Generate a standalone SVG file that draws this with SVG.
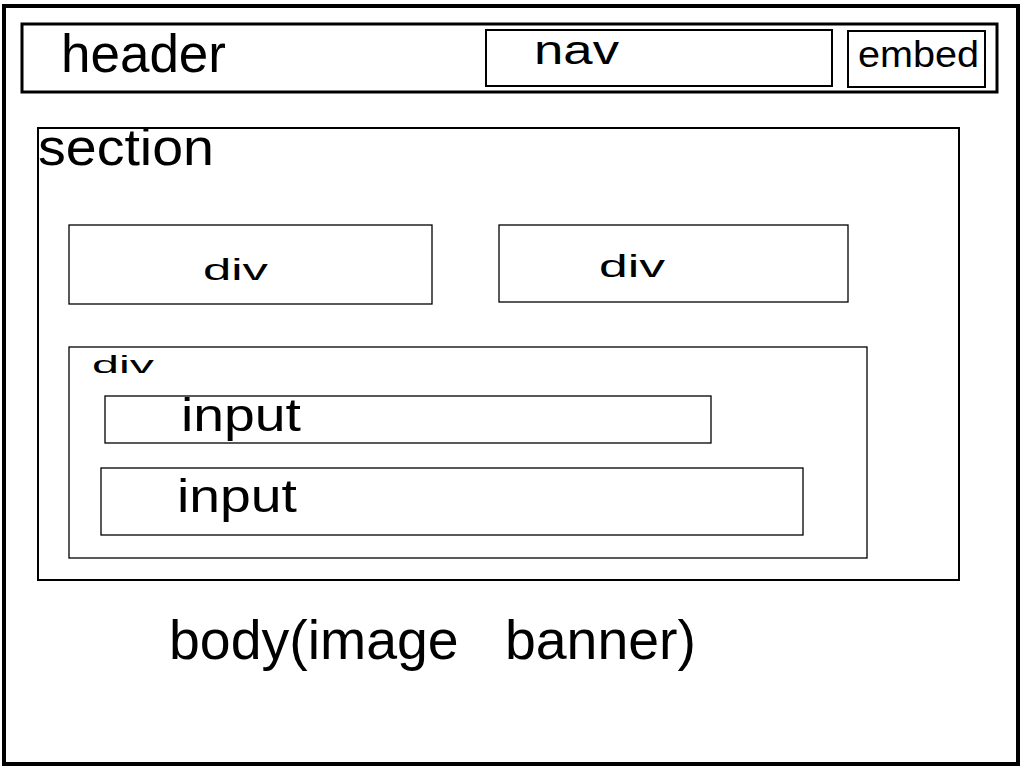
<svg xmlns="http://www.w3.org/2000/svg" width="1024" height="768" viewBox="0 0 1024 768">
<style>
rect{fill:none;stroke:#000}
text{font-family:"Liberation Sans",Arial,sans-serif;fill:#000}
.t4{stroke-width:4}.t3{stroke-width:3}.t2{stroke-width:2}.t1{stroke-width:1.3}
</style>
<rect width="1024" height="768" fill="#fff" style="fill:#fff;stroke:none"/>
<g id="body">
<rect class="t4" x="4" y="6" width="1014" height="758"/>
<text x="169" y="659" font-size="55" textLength="527" lengthAdjust="spacingAndGlyphs" xml:space="preserve">body(image   banner)</text>
</g>
<g id="header">
<rect class="t3" x="22" y="24" width="975" height="68"/>
<text x="61" y="72" font-size="54" textLength="165" lengthAdjust="spacingAndGlyphs">header</text>
</g>
<g id="nav">
<rect class="t2" x="486" y="30" width="346" height="56"/>
<text x="534" y="64" font-size="41" textLength="85" lengthAdjust="spacingAndGlyphs">nav</text>
</g>
<g id="embed">
<rect class="t2" x="848" y="31" width="137" height="56"/>
<text x="858" y="67" font-size="36" textLength="121" lengthAdjust="spacingAndGlyphs">embed</text>
</g>
<g id="section">
<rect class="t2" x="38" y="128" width="921" height="452"/>
<text x="38" y="165" font-size="52" textLength="176" lengthAdjust="spacingAndGlyphs">section</text>
</g>
<g id="div1">
<rect class="t1" x="69" y="225" width="363" height="79"/>
<text x="203" y="280" font-size="30" textLength="65" lengthAdjust="spacingAndGlyphs">div</text>
</g>
<g id="div2">
<rect class="t1" x="499" y="225" width="349" height="77"/>
<text x="599" y="277" font-size="32" textLength="66" lengthAdjust="spacingAndGlyphs">div</text>
</g>
<g id="div3">
<rect class="t1" x="69" y="347" width="798" height="211"/>
<text x="92" y="373" font-size="23" textLength="62" lengthAdjust="spacingAndGlyphs">div</text>
</g>
<g id="input1">
<rect class="t1" x="105" y="396" width="606" height="47"/>
<text x="181" y="431" font-size="46" textLength="120" lengthAdjust="spacingAndGlyphs">input</text>
</g>
<g id="input2">
<rect class="t1" x="101" y="468" width="702" height="67"/>
<text x="177" y="512" font-size="46" textLength="120" lengthAdjust="spacingAndGlyphs">input</text>
</g>
<g id="connectors"/>
</svg>
